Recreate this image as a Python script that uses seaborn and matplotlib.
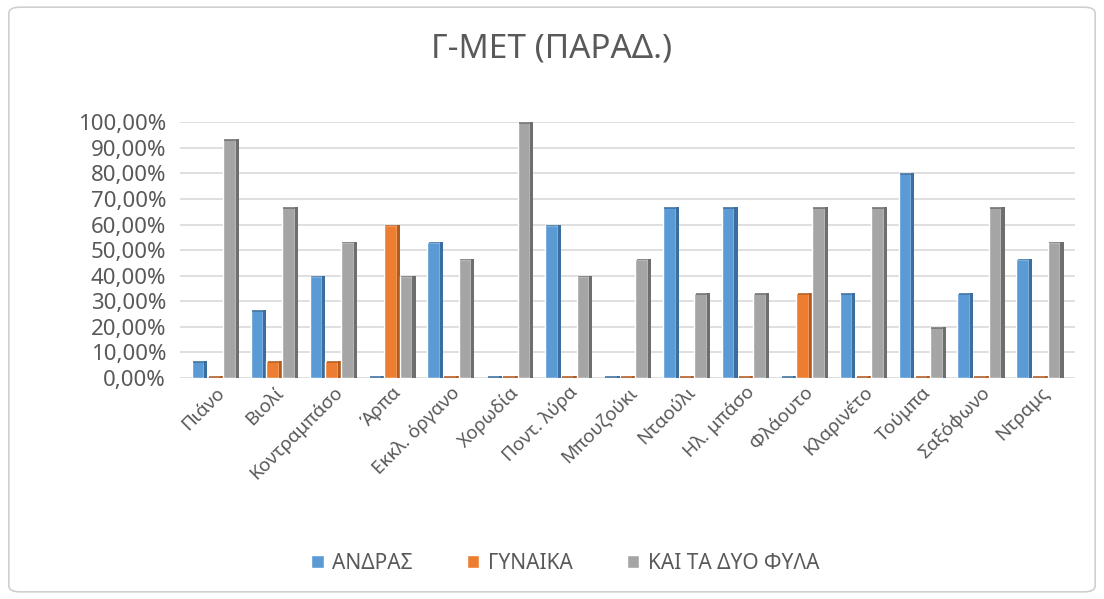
import numpy as np
import pandas as pd
import matplotlib
matplotlib.use("Agg")
import matplotlib.pyplot as plt
import seaborn as sns
from matplotlib.ticker import FuncFormatter, MultipleLocator
from matplotlib.patches import Rectangle, FancyBboxPatch

# Data (percent)
instruments = ["Πιάνο", "Βιολί", "Κοντραμπάσο", "Άρπα", "Εκκλ. όργανο", "Χορωδία",
               "Ποντ. λύρα", "Μπουζούκι", "Νταούλι", "Ηλ. μπάσο", "Φλάουτο",
               "Κλαρινέτο", "Τούμπα", "Σαξόφωνο", "Ντραμς"]
andras = [6.67, 26.67, 40.0, 0, 53.33, 0, 60.0, 0, 66.67, 66.67, 0, 33.33, 80.0, 33.33, 46.67]
gynaika = [0, 6.67, 6.67, 60.0, 0, 0, 0, 0, 0, 0, 33.33, 0, 0, 0, 0]
kai_ta_dyo = [93.33, 66.67, 53.33, 40.0, 46.67, 100.0, 40.0, 46.67, 33.33, 33.33, 66.67, 66.67, 20.0, 66.67, 53.33]
series = ["ΑΝΔΡΑΣ", "ΓΥΝΑΙΚΑ", "ΚΑΙ ΤΑ ΔΥΟ ΦΥΛΑ"]
colors = ["#5B9BD5", "#ED7D31", "#A5A5A5"]
shades = ["#3A6E9E", "#B35A1F", "#6E6E6E"]

df = pd.DataFrame({"Όργανο": instruments, series[0]: andras,
                   series[1]: gynaika, series[2]: kai_ta_dyo})
long = df.melt(id_vars="Όργανο", var_name="Φύλο", value_name="Ποσοστό")

sns.set_theme(style="white")
plt.rcParams['font.family'] = ['Noto Sans', 'DejaVu Sans']
txt = "#595959"

fig = plt.figure(figsize=(11.04, 5.99), dpi=100)
fig.patches.append(FancyBboxPatch((0.008, 0.012), 0.984, 0.976,
                                  boxstyle="round,pad=0,rounding_size=0.01",
                                  transform=fig.transFigure, fill=False,
                                  edgecolor="#d0d0d0", linewidth=1.2))
ax = fig.add_axes([0.163, 0.369, 0.811, 0.427])

sns.barplot(data=long, x="Όργανο", y="Ποσοστό", hue="Φύλο", palette=colors,
            width=0.8, gap=0.0, ax=ax, legend=True, saturation=1, zorder=3)

# fake the 3D side/top faces of the Excel columns (zero values keep a flat stub)
for k, (container, shade) in enumerate(zip(ax.containers, shades)):
    for p in container:
        h = p.get_height()
        x0, w = p.get_x(), p.get_width()
        side = w * 0.2
        p.set_width(w - side)
        z = 3 + k * 0.1
        p.set_zorder(z)
        top = max(h, 0.7)
        ax.add_patch(Rectangle((x0 + w - side, 0), side, top, facecolor=shade,
                               edgecolor="none", zorder=z))
        ax.add_patch(Rectangle((x0 + side * 0.4, top - 0.7), w - side * 0.4, 0.7,
                               facecolor=shade, edgecolor="none", zorder=z,
                               alpha=0.8))

ax.set_ylim(0, 100)
ax.set_xlim(-0.6, len(instruments) - 0.4)
ax.yaxis.set_major_locator(MultipleLocator(10))
ax.yaxis.set_major_formatter(FuncFormatter(lambda v, _: f"{v:.2f}%".replace(".", ",")))
ax.grid(axis="y", color="#d9d9d9", linewidth=1.2, zorder=0)
for s in ax.spines.values():
    s.set_visible(False)
ax.tick_params(axis="y", labelsize=16, colors=txt, length=0, pad=10)
ax.tick_params(axis="x", labelsize=13.5, colors=txt, length=0, pad=4)
plt.setp(ax.get_xticklabels(), rotation=45, ha="right", rotation_mode="anchor")
ax.set_xlabel("")
ax.set_ylabel("")

fig.suptitle("Γ-ΜΕΤ (ΠΑΡΑΔ.)", y=0.945, fontsize=24, color=txt)

ax.get_legend().remove()
handles = [Rectangle((0, 0), 1, 1, facecolor=c) for c in colors]
fig.legend(handles, series, loc="center", bbox_to_anchor=(0.512, 0.06), ncol=3,
           frameon=False, fontsize=15, labelcolor=txt, handlelength=0.6,
           handleheight=0.6, handletextpad=0.4, columnspacing=2.6)

fig.savefig("out.png", dpi=100)
